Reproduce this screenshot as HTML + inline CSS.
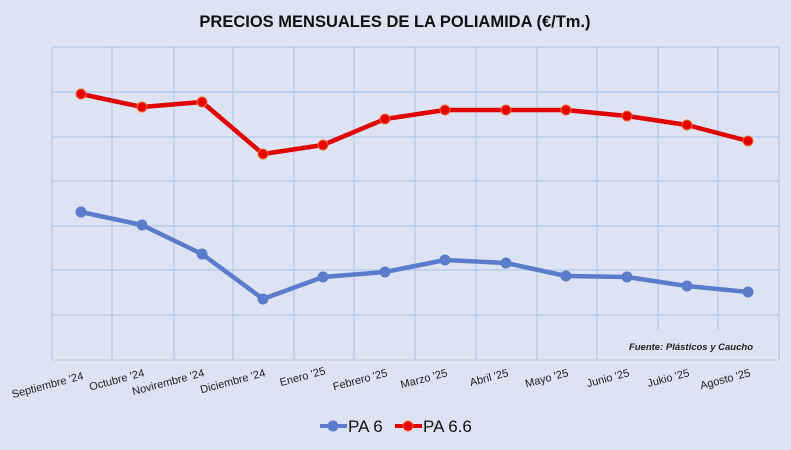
<!DOCTYPE html>
<html><head><meta charset="utf-8"><style>
body{margin:0;background:#dde3f2;}
svg{display:block;font-family:"Liberation Sans",sans-serif;}
</style></head><body>
<svg width="791" height="450" viewBox="0 0 791 450">
<rect width="791" height="450" fill="#dde3f2"/>
<text x="395" y="27" text-anchor="middle" font-weight="bold" font-size="16.5" fill="#111">PRECIOS MENSUALES DE LA POLIAMIDA (€/Tm.)</text>
<g stroke="#b4c7e7" stroke-width="1.2">
<line x1="52" y1="47" x2="779" y2="47"/><line x1="52" y1="92" x2="779" y2="92"/><line x1="52" y1="137" x2="779" y2="137"/><line x1="52" y1="181" x2="779" y2="181"/><line x1="52" y1="226" x2="779" y2="226"/><line x1="52" y1="270" x2="779" y2="270"/><line x1="52" y1="315" x2="779" y2="315"/>
<line x1="52" y1="47" x2="52" y2="360"/><line x1="112" y1="47" x2="112" y2="360"/><line x1="174" y1="47" x2="174" y2="360"/><line x1="233" y1="47" x2="233" y2="360"/><line x1="294" y1="47" x2="294" y2="360"/><line x1="354" y1="47" x2="354" y2="360"/><line x1="415" y1="47" x2="415" y2="360"/><line x1="476" y1="47" x2="476" y2="360"/><line x1="537" y1="47" x2="537" y2="360"/><line x1="597" y1="47" x2="597" y2="360"/><line x1="658" y1="47" x2="658" y2="330"/><line x1="718" y1="47" x2="718" y2="330"/><line x1="779" y1="47" x2="779" y2="360"/>
</g>
<line x1="52" y1="360" x2="779" y2="360" stroke="#d0d0d0" stroke-width="1.2"/>
<text x="753" y="350" text-anchor="end" font-size="9.5" font-weight="bold" font-style="italic" fill="#222">Fuente: Plásticos y Caucho</text>
<polyline fill="none" stroke="#e00000" stroke-width="4.5" stroke-linejoin="round" points="81,94 142,107 202,102 263,154 323,145 385,119 445,110 506,110 566,110 627,116 687,125 748,141"/>
<g fill="#e60000" stroke="#f07030" stroke-width="1">
<circle cx="81" cy="94" r="5"/><circle cx="142" cy="107" r="5"/><circle cx="202" cy="102" r="5"/><circle cx="263" cy="154" r="5"/><circle cx="323" cy="145" r="5"/><circle cx="385" cy="119" r="5"/><circle cx="445" cy="110" r="5"/><circle cx="506" cy="110" r="5"/><circle cx="566" cy="110" r="5"/><circle cx="627" cy="116" r="5"/><circle cx="687" cy="125" r="5"/><circle cx="748" cy="141" r="5"/>
</g>
<polyline fill="none" stroke="#5b7ccb" stroke-width="4.5" stroke-linejoin="round" points="81,212 142,225 202,254 263,299 323,277 385,272 445,260 506,263 566,276 627,277 687,286 748,292"/>
<g fill="#5b7ccb">
<circle cx="81" cy="212" r="5.5"/><circle cx="142" cy="225" r="5.5"/><circle cx="202" cy="254" r="5.5"/><circle cx="263" cy="299" r="5.5"/><circle cx="323" cy="277" r="5.5"/><circle cx="385" cy="272" r="5.5"/><circle cx="445" cy="260" r="5.5"/><circle cx="506" cy="263" r="5.5"/><circle cx="566" cy="276" r="5.5"/><circle cx="627" cy="277" r="5.5"/><circle cx="687" cy="286" r="5.5"/><circle cx="748" cy="292" r="5.5"/>
</g>
<g font-size="11" fill="#222" text-anchor="end">
<text transform="translate(84,379) rotate(-15)">Septiembre '24</text>
<text transform="translate(145,376) rotate(-15)">Octubre '24</text>
<text transform="translate(205,376) rotate(-15)">Novirembre '24</text>
<text transform="translate(266,376) rotate(-15)">Diciembre '24</text>
<text transform="translate(326,374) rotate(-15)">Enero '25</text>
<text transform="translate(388,376) rotate(-15)">Febrero '25</text>
<text transform="translate(448,376) rotate(-15)">Marzo '25</text>
<text transform="translate(509,376) rotate(-15)">Abril '25</text>
<text transform="translate(569,376) rotate(-15)">Mayo '25</text>
<text transform="translate(630,376) rotate(-15)">Junio '25</text>
<text transform="translate(690,376) rotate(-15)">Jukio '25</text>
<text transform="translate(751,376) rotate(-15)">Agosto '25</text>
</g>
<line x1="320" y1="426" x2="347" y2="426" stroke="#5b7ccb" stroke-width="4"/>
<circle cx="333" cy="426" r="5.5" fill="#5b7ccb"/>
<text x="348" y="432" font-size="17" fill="#111">PA 6</text>
<line x1="395" y1="426" x2="422" y2="426" stroke="#e00000" stroke-width="4"/>
<circle cx="408" cy="426" r="5" fill="#e60000" stroke="#f07030"/>
<text x="423" y="432" font-size="17" fill="#111">PA 6.6</text>
</svg>
</body></html>
